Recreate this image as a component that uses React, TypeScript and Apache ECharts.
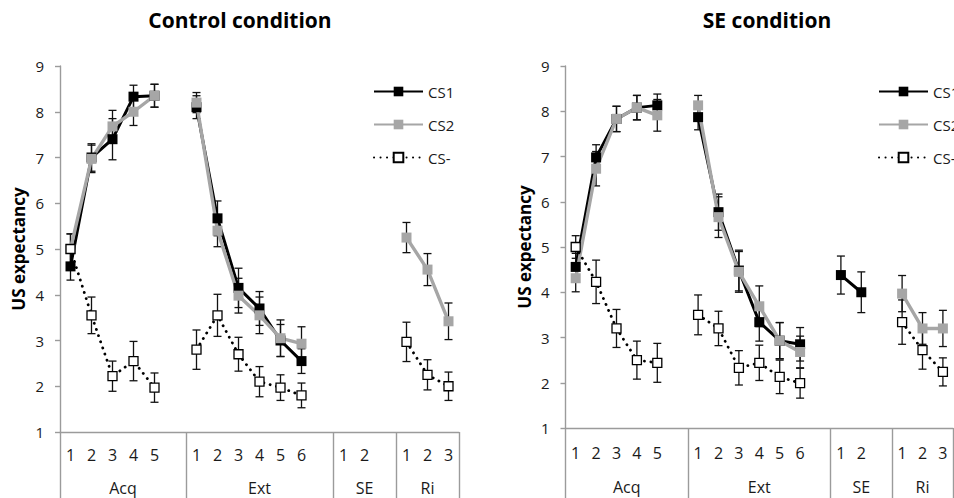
import React, { useEffect, useRef } from 'react';
import * as echarts from 'echarts';

// ---------- data ----------
const categories = ['1', '2', '3', '4', '5', '', '1', '2', '3', '4', '5', '6', '', '1', '2', '', '1', '2', '3'];
const groupNames = ['Acq', 'Ext', 'SE', 'Ri'];
const groupSizes = [6, 7, 3, 3];
const yMin = 1;
const yMax = 9;
const titles = ['Control condition', 'SE condition'];
const yAxisName = 'US expectancy';
const seriesNames = ['CS1', 'CS2', 'CS-'];

// Control condition
const ctrlCS1 = [4.62, 7.0, 7.4, 8.33, 8.35, null, 8.1, 5.67, 4.15, 3.7, 3.0, 2.55, null, null, null, null, null, null, null];
const ctrlCS1Err = [0.3, 0.3, 0.45, 0.25, 0.25, null, 0.25, 0.38, 0.43, 0.37, 0.35, 0.27, null, null, null, null, null, null, null];
const ctrlCS2 = [5.0, 6.97, 7.68, 8.0, 8.35, null, 8.2, 5.4, 3.98, 3.55, 3.05, 2.93, null, null, null, null, 5.25, 4.55, 3.42];
const ctrlCS2Err = [0.33, 0.3, 0.35, 0.3, 0.25, null, 0.22, 0.35, 0.38, 0.4, 0.4, 0.37, null, null, null, null, 0.33, 0.35, 0.4];
const ctrlCSm = [5.0, 3.55, 2.22, 2.55, 1.97, null, 2.8, 3.55, 2.7, 2.1, 1.97, 1.8, null, null, null, null, 2.97, 2.25, 2.0];
const ctrlCSmErr = [0.33, 0.4, 0.33, 0.43, 0.32, null, 0.43, 0.46, 0.37, 0.33, 0.28, 0.27, null, null, null, null, 0.43, 0.33, 0.31];

// SE condition
const seCS1 = [4.56, 6.98, 7.83, 8.08, 8.13, null, 7.87, 5.77, 4.48, 3.34, 2.93, 2.85, null, 4.38, 4.0, null, null, null, null];
const seCS1Err = [0.3, 0.28, 0.28, 0.27, 0.25, null, 0.28, 0.4, 0.45, 0.42, 0.4, 0.37, null, 0.42, 0.45, null, null, null, null];
const seCS2 = [4.31, 6.73, 7.83, 8.08, 7.91, null, 8.13, 5.66, 4.45, 3.69, 2.93, 2.68, null, null, null, null, 3.97, 3.2, 3.2];
const seCS2Err = [0.3, 0.38, 0.28, 0.27, 0.35, null, 0.22, 0.45, 0.45, 0.45, 0.4, 0.35, null, null, null, null, 0.4, 0.35, 0.4];
const seCSm = [5.0, 4.23, 3.2, 2.5, 2.44, null, 3.5, 3.2, 2.33, 2.44, 2.13, 1.99, null, null, null, null, 3.34, 2.72, 2.24];
const seCSmErr = [0.25, 0.48, 0.42, 0.42, 0.43, null, 0.44, 0.38, 0.38, 0.39, 0.37, 0.33, null, null, null, null, 0.49, 0.42, 0.31];

// ---------- styling ----------
const FONT = '"Open Sans", "Noto Sans", sans-serif';
const GREY = '#a6a6a6';
const AXIS = '#9b9b9b';
const TEXT = '#1a1a1a';

const panels = [
  { means: [ctrlCS1, ctrlCS2, ctrlCSm], errs: [ctrlCS1Err, ctrlCS2Err, ctrlCSmErr], grid: { left: 60, top: 66, width: 399, height: 366 }, title: 240, legend: 373, m1: 15, m2: 48 },
  { means: [seCS1, seCS2, seCSm], errs: [seCS1Err, seCS2Err, seCSmErr], grid: { left: 565.5, top: 66, width: 387.6, height: 362 }, title: 767, legend: 878, m1: 17, m2: 51 },
];

function groupBounds(): number[] {
  const b = [0];
  groupSizes.forEach((s) => b.push(b[b.length - 1] + s));
  return b;
}
function groupCenters(): number[] {
  const b = groupBounds();
  return groupNames.map((_, i) => (b[i] + b[i + 1]) / 2);
}

function errorBarSeries(means: (number | null)[], errs: (number | null)[], xi: number, yi: number) {
  const data: number[][] = [];
  means.forEach((m, i) => {
    const e = errs[i];
    if (m != null && e != null) data.push([i, m - e, m + e]);
  });
  return {
    type: 'custom',
    xAxisIndex: xi,
    yAxisIndex: yi,
    z: 3,
    silent: true,
    encode: { x: 0, y: [1, 2] },
    data,
    renderItem: (params: any, api: any) => {
      const i = api.value(0);
      const lo = api.coord([i, api.value(1)]);
      const hi = api.coord([i, api.value(2)]);
      const h = 4;
      const st = { stroke: '#111', lineWidth: 1.3 };
      return {
        type: 'group',
        children: [
          { type: 'line', shape: { x1: hi[0], y1: hi[1], x2: lo[0], y2: lo[1] }, style: st },
          { type: 'line', shape: { x1: hi[0] - h, y1: hi[1], x2: hi[0] + h, y2: hi[1] }, style: st },
          { type: 'line', shape: { x1: lo[0] - h, y1: lo[1], x2: lo[0] + h, y2: lo[1] }, style: st },
        ],
      };
    },
  };
}

const lineStyles = [
  { symbolSize: 10, lineStyle: { color: '#000', width: 3 }, itemStyle: { color: '#000' } },
  { symbolSize: 10, lineStyle: { color: GREY, width: 3.4 }, itemStyle: { color: GREY } },
  { symbolSize: 9, lineStyle: { color: '#000', width: 2.8, type: [0.1, 6.4], cap: 'round' }, itemStyle: { color: '#fff', borderColor: '#000', borderWidth: 1.3 } },
];

function buildOption() {
  const bounds = groupBounds();
  const centers = groupCenters();
  const grid: any[] = [];
  const xAxis: any[] = [];
  const yAxis: any[] = [];
  const series: any[] = [];
  const title: any[] = [];
  const legend: any[] = [];

  panels.forEach((p, gi) => {
    grid.push({ ...p.grid, containLabel: false });
    xAxis.push({
      type: 'category',
      gridIndex: gi,
      data: categories,
      boundaryGap: true,
      axisLine: { show: true, lineStyle: { color: AXIS, width: 1.4 } },
      axisTick: { show: false },
      axisLabel: { interval: 0, margin: p.m1, color: TEXT, fontFamily: FONT, fontSize: 16 },
      splitLine: { show: false },
    });
    xAxis.push({
      type: 'value',
      gridIndex: gi,
      min: 0,
      max: categories.length,
      position: 'bottom',
      axisLine: { show: false },
      splitLine: { show: false },
      axisTick: { show: true, customValues: bounds, length: 72, lineStyle: { color: AXIS, width: 1.4 } },
      axisLabel: {
        show: true,
        customValues: centers,
        margin: p.m2,
        color: TEXT,
        fontFamily: FONT,
        fontSize: 16,
        formatter: (v: number) => {
          const k = centers.findIndex((c) => Math.abs(c - v) < 1e-6);
          return k >= 0 ? groupNames[k] : '';
        },
      },
    });
    yAxis.push({
      type: 'value',
      gridIndex: gi,
      min: yMin,
      max: yMax,
      interval: 1,
      name: yAxisName,
      nameLocation: 'middle',
      nameRotate: 90,
      nameGap: 33,
      nameTextStyle: { fontFamily: FONT, fontSize: 17, fontWeight: 'bold', color: '#000' },
      axisLine: { show: true, lineStyle: { color: AXIS, width: 1.4 } },
      axisTick: { show: true, length: 5, lineStyle: { color: AXIS, width: 1.4 } },
      axisLabel: { margin: 16, color: TEXT, fontFamily: FONT, fontSize: 15 },
      splitLine: { show: false },
    });
    const xi = gi * 2;
    p.means.forEach((m, si) => {
      series.push(errorBarSeries(m, p.errs[si], xi, gi));
      series.push({
        name: seriesNames[si],
        type: 'line',
        xAxisIndex: xi,
        yAxisIndex: gi,
        data: m.map((v) => (v == null ? '-' : v)),
        connectNulls: false,
        symbol: 'rect',
        z: 3,
        ...lineStyles[si],
      });
    });
    title.push({
      text: titles[gi],
      left: p.title,
      top: 9,
      textAlign: 'center',
      padding: 0,
      textStyle: { fontFamily: FONT, fontSize: 21, fontWeight: 'bold', color: '#000' },
    });
    legend.push({
      data: seriesNames,
      orient: 'vertical',
      left: p.legend,
      top: 84,
      padding: 0,
      itemWidth: 49,
      itemHeight: 12,
      itemGap: 18,
      selectedMode: false,
      textStyle: { fontFamily: FONT, fontSize: 15, color: TEXT },
    });
  });

  return { animation: false, backgroundColor: '#fff', title, legend, grid, xAxis, yAxis, series };
}

export default function App() {
  const ref = useRef<HTMLDivElement>(null);
  useEffect(() => {
    if (!ref.current) return;
    const chart = echarts.init(ref.current, null, { renderer: 'svg' });
    chart.setOption(buildOption() as any);
    return () => chart.dispose();
  }, []);
  return <div ref={ref} style={{ position: 'fixed', left: 0, top: 0, width: 954, height: 498 }} />;
}
